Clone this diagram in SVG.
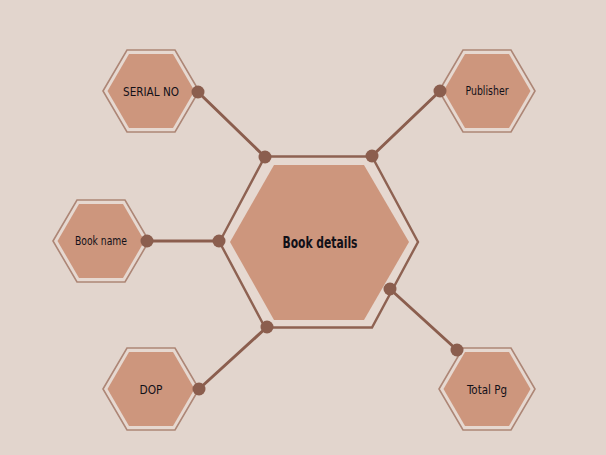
<svg xmlns="http://www.w3.org/2000/svg" width="606" height="455" viewBox="0 0 606 455">
<style>
.bg{fill:#e2d5cd}
.ring{fill:#e6d8d0;stroke:#ad8676;stroke-width:1.6}
.ringc{fill:#e6d8d0;stroke:#8e6252;stroke-width:2.4}
.core{fill:#cd967d}
.lbl{font-family:"DejaVu Sans Condensed","DejaVu Sans",sans-serif;font-stretch:condensed;fill:#121018;text-anchor:middle}
.conn line{stroke:#8b5e4e;stroke-width:3;stroke-linecap:round}
.conn circle{fill:#8b5e4e}
</style>
<rect class="bg" x="0" y="0" width="606" height="455"/>
<g id="center">
<polygon class="ringc" points="219.5,242 265,156.5 372,156.5 418,242 372,327.5 265,327.5"/>
<polygon class="core" points="230,242 274,165 364,165 409,242 364,320 274,320"/>
<text class="lbl" x="320" y="247.5" font-size="16" font-weight="bold" textLength="75" lengthAdjust="spacingAndGlyphs">Book details</text>
</g>
<g id="serial">
<polygon class="ring" points="103,91 127,50 175,50 199,91 175,132 127,132"/>
<polygon class="core" points="107.5,91 129,54 173,54 194.5,91 173,128 129,128"/>
<text class="lbl" x="151" y="96" font-size="13" textLength="56" lengthAdjust="spacingAndGlyphs">SERIAL NO</text>
</g>
<g id="publisher">
<polygon class="ring" points="439,91 463,50 511,50 535,91 511,132 463,132"/>
<polygon class="core" points="443.5,91 465,54 509,54 530.5,91 509,128 465,128"/>
<text class="lbl" x="487" y="95" font-size="12" textLength="43" lengthAdjust="spacingAndGlyphs">Publisher</text>
</g>
<g id="bookname">
<polygon class="ring" points="53,241 77,200 125,200 149,241 125,282 77,282"/>
<polygon class="core" points="57.5,241 79,204 123,204 144.5,241 123,278 79,278"/>
<text class="lbl" x="101" y="245" font-size="12" textLength="52" lengthAdjust="spacingAndGlyphs">Book name</text>
</g>
<g id="dop">
<polygon class="ring" points="103,389 127,348 175,348 199,389 175,430 127,430"/>
<polygon class="core" points="107.5,389 129,352 173,352 194.5,389 173,426 129,426"/>
<text class="lbl" x="151" y="394" font-size="13" textLength="23" lengthAdjust="spacingAndGlyphs">DOP</text>
</g>
<g id="totalpg">
<polygon class="ring" points="439,389 463,348 511,348 535,389 511,430 463,430"/>
<polygon class="core" points="443.5,389 465,352 509,352 530.5,389 509,426 465,426"/>
<text class="lbl" x="487" y="393.5" font-size="13" textLength="40" lengthAdjust="spacingAndGlyphs">Total Pg</text>
</g>
<g id="connectors" class="conn">
<line x1="198" y1="92" x2="265" y2="157"/>
<circle cx="198" cy="92" r="6.5"/>
<circle cx="265" cy="157" r="6.5"/>
<line x1="440" y1="91" x2="372" y2="156"/>
<circle cx="440" cy="91" r="6.5"/>
<circle cx="372" cy="156" r="6.5"/>
<line x1="147" y1="241" x2="219" y2="241"/>
<circle cx="147" cy="241" r="6.5"/>
<circle cx="219" cy="241" r="6.5"/>
<line x1="199" y1="389" x2="267" y2="327"/>
<circle cx="199" cy="389" r="6.5"/>
<circle cx="267" cy="327" r="6.5"/>
<line x1="457" y1="350" x2="390" y2="289"/>
<circle cx="457" cy="350" r="6.5"/>
<circle cx="390" cy="289" r="6.5"/>
</g>
</svg>
